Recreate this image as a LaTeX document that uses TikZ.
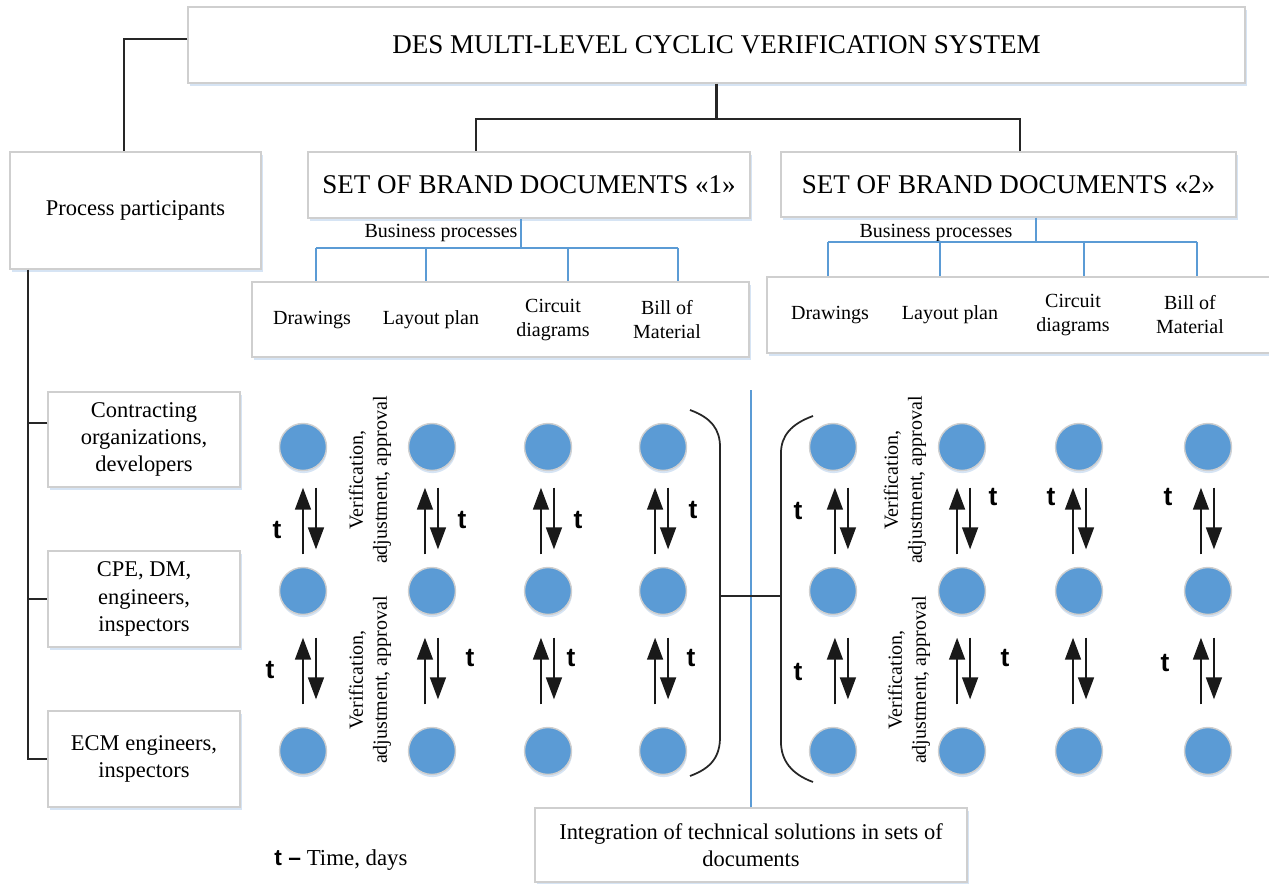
\documentclass[tikz,border=0pt]{standalone}
\usepackage{fontspec}
\setmainfont{Liberation Serif}
\setsansfont{Liberation Sans}
\usetikzlibrary{arrows.meta,shadows}
\definecolor{dotblue}{HTML}{5B9BD5}
\definecolor{boxgray}{HTML}{CFCFCF}
\definecolor{glow}{HTML}{D6E4F4}
\tikzset{%
box/.style={draw=boxgray, line width=0.8pt, fill=white, inner sep=2pt, align=center,
	drop shadow={shadow xshift=1pt, shadow yshift=-1.5pt, fill=glow, opacity=1}},
big/.style={font=\fontsize{15.4}{18.5}\selectfont},
mid/.style={font=\fontsize{12.8}{15.4}\selectfont},
sml/.style={font=\fontsize{11.4}{13.7}\selectfont},
dot/.style={circle, draw=boxgray, line width=0.8pt, fill=dotblue, minimum size=0.94cm, inner sep=0pt,
	drop shadow={shadow xshift=0.3pt, shadow yshift=-1.5pt, fill=glow, opacity=1}},
blk/.style={draw=black!85, line width=1.3pt},
bline/.style={draw=dotblue, line width=1.3pt},
arr/.style={draw=black!90, line width=1.2pt, -{Triangle[length=12.5pt,width=9pt]}},
uptop/.style={arr, shorten <=7pt, shorten >=9.4pt},
dntop/.style={arr, shorten <=9.4pt, shorten >=9.9pt},
uplow/.style={arr, shorten <=12.8pt, shorten >=12.8pt},
dnlow/.style={arr, shorten <=12.8pt, shorten >=15.6pt},
tl/.style={font=\fontsize{15}{18}\selectfont\sffamily\bfseries},
vtxt/.style={sml, rotate=90, align=center, inner sep=0pt}
}
\begin{document}
\begin{tikzpicture}[x=0.02cm, y=-0.02cm]
	\useasboundingbox (0,0) rectangle (1269,884);
	% top level
	\node[box, big, minimum width=21.14cm, minimum height=1.52cm] (title) at (716.5,45) {DES MULTI-LEVEL CYCLIC VERIFICATION SYSTEM};
	\node[box, mid, minimum width=5.02cm, minimum height=2.34cm] (pp) at (135.5,210.5) {Process participants};
	\node[box, big, minimum width=8.84cm, minimum height=1.32cm] (s1) at (529,185) {SET OF BRAND DOCUMENTS «1»};
	\node[box, big, minimum width=9.1cm, minimum height=1.3cm] (s2) at (1008.5,184.5) {SET OF BRAND DOCUMENTS «2»};
	\draw[blk] ([yshift=3.4pt]title.west) -| ([xshift=-6.5pt]pp.north);
	\draw[blk] (title.south) -- ++(0,35) -| ([xshift=-30pt]s1.north);
	\draw[blk] (title.south) ++(0,35) -| ([xshift=6.5pt]s2.north);
	% business processes
	\node[box, minimum width=9.94cm, minimum height=1.5cm] (sub1) at (500.5,319.5) {};
	\node[box, minimum width=10.16cm, minimum height=1.52cm] (sub2) at (1021,315) {};
	\node[sml] (bp1) at (441,233) {Business processes};
	\node[sml] (bp2) at (936,233) {Business processes};
	\coordinate (h1) at (521,248);
	\coordinate (h2) at (1036,242);
	\draw[bline] (s1.south -| h1) -- (h1);
	\draw[bline] (s2.south -| h2) -- (h2);
	\draw[bline] (h1 -| 316,0) -- (h1 -| 678,0);
	\draw[bline] (h2 -| 828,0) -- (h2 -| 1197,0);
	\foreach \xx in {316,426,568,678} \draw[bline] (h1 -| \xx,0) -- (sub1.north -| \xx,0);
	\foreach \xx in {828,940,1084,1197} \draw[bline] (h2 -| \xx,0) -- (sub2.north -| \xx,0);
	\node[sml] (dr1) at (312,320) {Drawings};
	\node[sml] (lp1) at (431,320) {Layout plan};
	\node[sml, align=center] (cd1) at (553,320) {Circuit\\diagrams};
	\node[sml, align=center] (bm1) at (667,320) {Bill of\\Material};
	\node[sml] (dr2) at (830,315) {Drawings};
	\node[sml] (lp2) at (950,315) {Layout plan};
	\node[sml, align=center] (cd2) at (1073,315) {Circuit\\diagrams};
	\node[sml, align=center] (bm2) at (1190,315) {Bill of\\Material};
	% participants
	\node[box, mid, minimum width=3.84cm, minimum height=1.9cm] (p1) at (144,439.5) {Contracting\\organizations,\\developers};
	\node[box, mid, minimum width=3.84cm, minimum height=1.92cm] (p2) at (144,599) {CPE, DM,\\engineers,\\inspectors};
	\node[box, mid, minimum width=3.84cm, minimum height=1.92cm] (p3) at (144,759) {ECM engineers,\\inspectors};
	\coordinate (spine) at (28,0);
	\draw[blk] (pp.south -| spine) -- (p3.west -| spine) -- (p3.west);
	\draw[blk] (p2.west -| spine) -- (p2.west);
	\draw[blk] ([yshift=9.4pt]p1.west) -- ++(-20,0);
	% circles
	\node[dot] (a1) at (303,447) {}; \node[dot] (a2) at (303,591) {}; \node[dot] (a3) at (303,751) {};
	\node[dot] (b1) at (432,447) {}; \node[dot] (b2) at (432,591) {}; \node[dot] (b3) at (432,751) {};
	\node[dot] (c1) at (548,447) {}; \node[dot] (c2) at (548,591) {}; \node[dot] (c3) at (548,751) {};
	\node[dot] (d1) at (663,447) {}; \node[dot] (d2) at (663,591) {}; \node[dot] (d3) at (663,751) {};
	\node[dot] (e1) at (833,447) {}; \node[dot] (e2) at (833,591) {}; \node[dot] (e3) at (833,751) {};
	\node[dot] (f1) at (962,447) {}; \node[dot] (f2) at (962,591) {}; \node[dot] (f3) at (962,751) {};
	\node[dot] (g1) at (1079,447) {}; \node[dot] (g2) at (1079,591) {}; \node[dot] (g3) at (1079,751) {};
	\node[dot] (k1) at (1208,447) {}; \node[dot] (k2) at (1208,591) {}; \node[dot] (k3) at (1208,751) {};
	% verification cycles
	\path (a2.north) edge[uptop] (a1.south) ([xshift=7.4pt]a1.south) edge[dntop] ([xshift=7.4pt]a2.north);
	\path (a3.north) edge[uplow] (a2.south) ([xshift=7.4pt]a2.south) edge[dnlow] ([xshift=7.4pt]a3.north);
	\path ([xshift=-4pt]b2.north) edge[uptop] ([xshift=-4pt]b1.south) ([xshift=3.4pt]b1.south) edge[dntop] ([xshift=3.4pt]b2.north);
	\path ([xshift=-4pt]b3.north) edge[uplow] ([xshift=-4pt]b2.south) ([xshift=3.4pt]b2.south) edge[dnlow] ([xshift=3.4pt]b3.north);
	\path ([xshift=-4pt]c2.north) edge[uptop] ([xshift=-4pt]c1.south) ([xshift=3.4pt]c1.south) edge[dntop] ([xshift=3.4pt]c2.north);
	\path ([xshift=-4pt]c3.north) edge[uplow] ([xshift=-4pt]c2.south) ([xshift=3.4pt]c2.south) edge[dnlow] ([xshift=3.4pt]c3.north);
	\path ([xshift=-4.5pt]d2.north) edge[uptop] ([xshift=-4.5pt]d1.south) ([xshift=2.9pt]d1.south) edge[dntop] ([xshift=2.9pt]d2.north);
	\path ([xshift=-4.5pt]d3.north) edge[uplow] ([xshift=-4.5pt]d2.south) ([xshift=2.9pt]d2.south) edge[dnlow] ([xshift=2.9pt]d3.north);
	\path ([xshift=1.1pt]e2.north) edge[uptop] ([xshift=1.1pt]e1.south) ([xshift=8.5pt]e1.south) edge[dntop] ([xshift=8.5pt]e2.north);
	\path ([xshift=1.1pt]e3.north) edge[uplow] ([xshift=1.1pt]e2.south) ([xshift=8.5pt]e2.south) edge[dnlow] ([xshift=8.5pt]e3.north);
	\path ([xshift=-2.8pt]f2.north) edge[uptop] ([xshift=-2.8pt]f1.south) ([xshift=4.6pt]f1.south) edge[dntop] ([xshift=4.6pt]f2.north);
	\path ([xshift=-2.8pt]f3.north) edge[uplow] ([xshift=-2.8pt]f2.south) ([xshift=4.6pt]f2.south) edge[dnlow] ([xshift=4.6pt]f3.north);
	\path ([xshift=-3.4pt]g2.north) edge[uptop] ([xshift=-3.4pt]g1.south) ([xshift=4pt]g1.south) edge[dntop] ([xshift=4pt]g2.north);
	\path ([xshift=-3.4pt]g3.north) edge[uplow] ([xshift=-3.4pt]g2.south) ([xshift=4pt]g2.south) edge[dnlow] ([xshift=4pt]g3.north);
	\path ([xshift=-4pt]k2.north) edge[uptop] ([xshift=-4pt]k1.south) ([xshift=3.4pt]k1.south) edge[dntop] ([xshift=3.4pt]k2.north);
	\path ([xshift=-4pt]k3.north) edge[uplow] ([xshift=-4pt]k2.south) ([xshift=3.4pt]k2.south) edge[dnlow] ([xshift=3.4pt]k3.north);
	% time marks
	\node[tl] (ta1) at (277,530) {t}; \node[tl] (ta2) at (270,670) {t};
	\node[tl] (tb1) at (462,520) {t}; \node[tl] (tb2) at (470,658) {t};
	\node[tl] (tc1) at (578,520) {t}; \node[tl] (tc2) at (571,658) {t};
	\node[tl] (td1) at (693,510) {t}; \node[tl] (td2) at (691,658) {t};
	\node[tl] (te1) at (798,511) {t}; \node[tl] (te2) at (798,672) {t};
	\node[tl] (tf1) at (993,497) {t}; \node[tl] (tf2) at (1005,658) {t};
	\node[tl] (tg1) at (1051,497) {t};
	\node[tl] (tk1) at (1168,497) {t}; \node[tl] (tk2) at (1165,663) {t};
	\node[vtxt] (v1) at (370,480) {Verification,\\adjustment, approval};
	\node[vtxt] (v2) at (370,680) {Verification,\\adjustment, approval};
	\node[vtxt] (v3) at (905,480) {Verification,\\adjustment, approval};
	\node[vtxt] (v4) at (909,680) {Verification,\\adjustment, approval};
	% integration
	\draw[blk, line width=1pt] (690,410) .. controls (712,418) and (720,430) .. (720,447) -- (720,737) .. controls (720,756) and (712,768) .. (690,776);
	\draw[blk, line width=1pt] (813,416) .. controls (791,424) and (781,436) .. (781,453) -- (781,742) .. controls (781,760) and (791,774) .. (813,782);
	\coordinate (br1) at (720,596);
	\coordinate (br2) at (781,596);
	\node[box, mid, minimum width=8.64cm, minimum height=1.48cm] (integ) at (751,845) {Integration of technical solutions in sets of\\documents};
	\coordinate (vtop) at (750,390);
	\draw[bline] (integ.north) -- (integ.north |- vtop);
	\draw[blk] (br1) -- (br2);
	\node[font=\fontsize{13}{15}\selectfont] (legend) at (341,860) {{\sffamily\bfseries t –} Time, days};
\end{tikzpicture}
\end{document}
